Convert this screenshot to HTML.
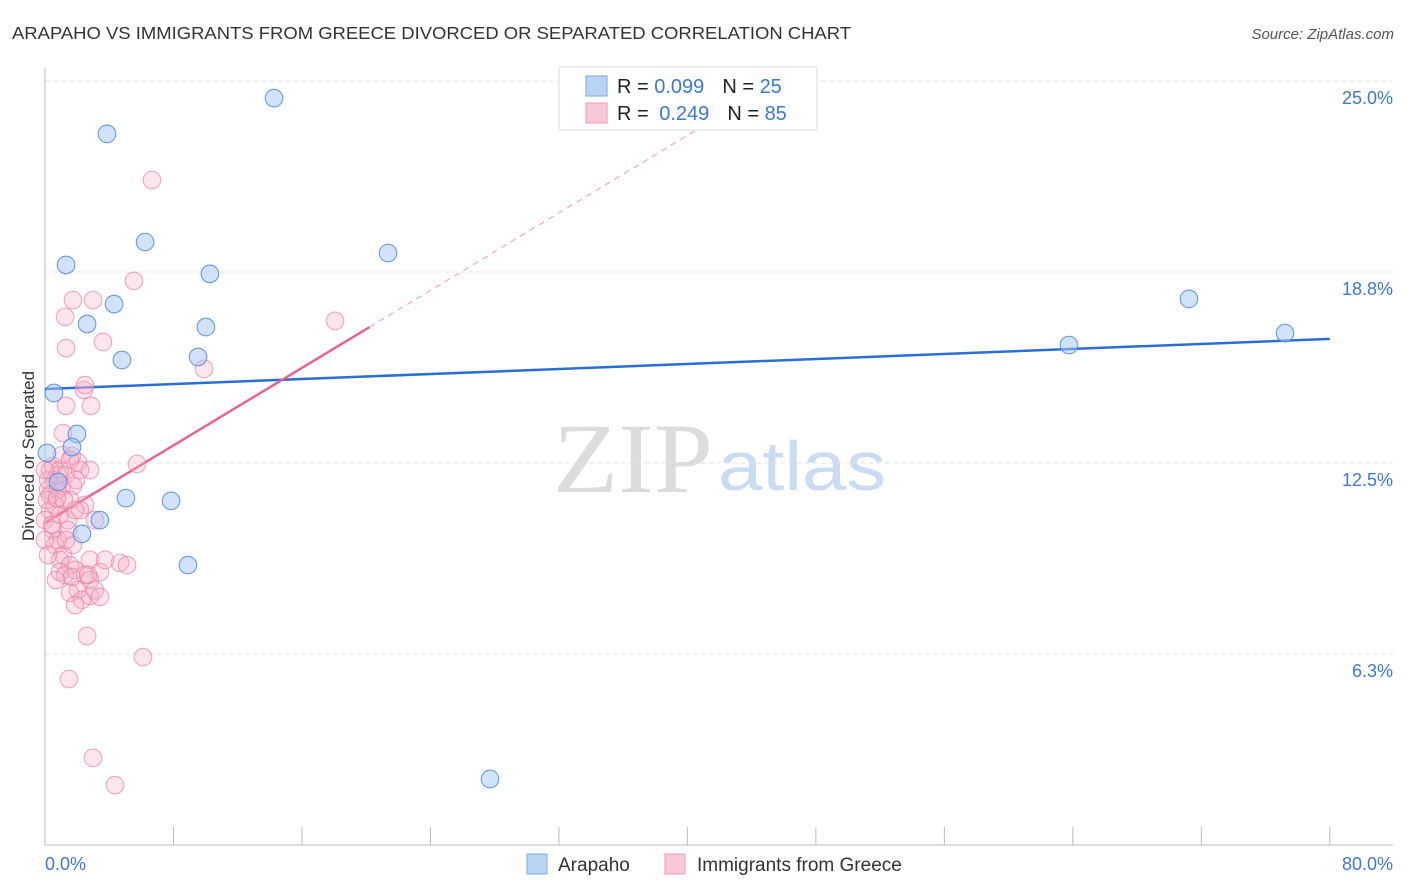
<!DOCTYPE html>
<html><head><meta charset="utf-8"><style>
body{margin:0;background:#fff;font-family:"Liberation Sans",sans-serif;}
#wrap{position:relative;width:1406px;height:892px;overflow:hidden;}
</style></head><body>
<div id="wrap">
<svg id="svg" width="1406" height="892" xmlns="http://www.w3.org/2000/svg">
<text x="12" y="39" font-size="17.5" fill="#333" textLength="839" lengthAdjust="spacingAndGlyphs">ARAPAHO VS IMMIGRANTS FROM GREECE DIVORCED OR SEPARATED CORRELATION CHART</text>
<text x="1394" y="39" font-size="15" fill="#555" font-style="italic" text-anchor="end">Source: ZipAtlas.com</text>
<text transform="translate(34,456) rotate(-90)" font-size="17" fill="#333" text-anchor="middle">Divorced or Separated</text>
<g>
<text x="553" y="492" font-family="Liberation Serif,serif" font-size="100" fill="#dcdcdc" textLength="160" lengthAdjust="spacingAndGlyphs">ZIP</text>
<text x="718" y="490" font-size="70" fill="#c9dcf3" textLength="168" lengthAdjust="spacingAndGlyphs">atlas</text>
</g>
<g id="grid"></g><g id="axes"></g><g id="trend"></g><g id="pts"></g>
<g>
<rect x="559" y="67" width="258" height="63" fill="#fff" stroke="#ddd"/>
<rect x="586" y="76" width="21" height="20" fill="#b9d3f5" stroke="#7aaae8"/>
<rect x="586" y="103" width="21" height="20" fill="#f9c8d7" stroke="#ef9ab5"/>
<text x="617" y="93" font-size="20" fill="#222">R = <tspan fill="#3b78d8">0.099</tspan><tspan dx="18">N = </tspan><tspan fill="#3b78d8">25</tspan></text>
<text x="617" y="120" font-size="20" fill="#222">R = <tspan fill="#3b78d8" dx="5">0.249</tspan><tspan dx="18">N = </tspan><tspan fill="#3b78d8">85</tspan></text>
</g>
<g>
<rect x="527" y="854" width="20" height="20" fill="#b9d3f5" stroke="#7aaae8"/>
<text x="558" y="871" font-size="19" fill="#333">Arapaho</text>
<rect x="665" y="854" width="20" height="20" fill="#f9c8d7" stroke="#ef9ab5"/>
<text x="697" y="871" font-size="19" fill="#333">Immigrants from Greece</text>
</g>
</svg>
</div>
<script>
const blueX=[3.86,14.26,6.23,1.31,10.27,21.36,4.30,2.62,10.02,4.79,9.53,0.56,1.99,1.68,0.12,5.04,7.85,3.42,2.30,8.90,27.71,71.23,63.76,77.21,0.81];
const blueY=[23.27,24.44,19.73,18.98,18.69,19.37,17.70,17.05,16.95,15.87,15.97,14.79,13.45,13.02,12.83,11.35,11.26,10.63,10.18,9.16,2.16,17.87,16.36,16.75,11.88];
const pinkX=[6.66,5.54,1.74,2.99,1.25,3.61,1.31,18.06,9.9,2.43,1.31,2.86,1.12,5.73,1.68,2.05,2.8,0.5,0.93,1.31,0.62,1.74,0.19,0.81,1.06,1.56,2.49,0.62,0.31,0.93,1.43,0,0.5,2.18,3.11,0.81,0.62,1.12,0.93,2.8,4.67,5.11,1.56,1.87,3.42,0.93,1.25,1.68,2.49,2.8,2.05,1.56,2.8,2.3,1.87,2.62,6.1,1.49,2.99,4.36,0.19,0.31,0.12,0.44,1.18,1.87,0.81,2.18,1.06,2.68,0.68,3.11,3.42,3.74,1.43,1.74,0,0.19,1.56,2.49,0.31,1.31,0.75,0,1.93];
const pinkY=[21.76,18.46,17.83,17.83,17.28,16.46,16.26,17.15,15.58,14.89,14.37,14.37,13.48,12.47,12.73,12.53,12.27,12.4,12.27,12.11,11.94,11.75,11.62,11.62,11.75,11.29,11.13,11.13,10.96,10.8,10.63,10.63,10.31,10.96,10.63,9.98,9.82,9.49,9.33,9.33,9.23,9.16,9.16,9.0,8.93,8.93,8.84,8.77,8.84,8.67,8.34,8.25,8.15,8.02,7.85,6.84,6.15,5.43,2.85,1.96,11.94,11.45,11.29,10.47,11.29,10.96,12.11,12.27,12.76,8.84,8.67,8.34,8.12,9.33,10.31,9.82,9.98,9.49,12.6,15.05,12.27,9.98,11.35,12.27,11.94];
const yTicks=[6.25,12.5,18.75,25];
const yTickLabels=["6.3%","12.5%","18.8%","25.0%"];
const xTicks=[0,8,16,24,32,40,48,56,64,72,80];
const blueTrend=[14.92,16.56]; // value at x=0, x=80
const pinkTrend=[10.54,0.317]; // intercept, slope
const NS="http://www.w3.org/2000/svg";
const X=v=>45+v*16.06, Y=v=>845-v*30.56;
function mk(t,a,p){const e=document.createElementNS(NS,t);for(const k in a)e.setAttribute(k,a[k]);p.appendChild(e);return e;}
const grid=document.getElementById('grid'),axes=document.getElementById('axes'),trend=document.getElementById('trend'),pts=document.getElementById('pts');
yTicks.forEach((v,i)=>{
 const l=mk('line',{x1:45,x2:1393,y1:Y(v),y2:Y(v),stroke:'#e2e2e2','stroke-width':1,'stroke-dasharray':'4,4'},grid);
 
 
 const t=mk('text',{x:1393,y:Y(v)+23,'text-anchor':'end','font-size':18,fill:'#3b78d8'},grid);
 t.textContent=yTickLabels[i];
 
 
});
const ay=mk('line',{x1:45,x2:45,y1:68,y2:845,stroke:'#bbb'},axes);


const ax=mk('line',{x1:45,x2:1393,y1:845,y2:845,stroke:'#bbb'},axes);


xTicks.forEach(v=>{
 const l=mk('line',{x1:X(v),x2:X(v),y1:827,y2:845,stroke:'#bbb'},axes);
 
 
});
const t0=mk('text',{x:45,y:870,'font-size':18,fill:'#3b78d8'},axes);t0.textContent='0.0%';


const t1=mk('text',{x:1393,y:870,'font-size':18,fill:'#3b78d8','text-anchor':'end'},axes);t1.textContent='80.0%';


function dot(x,y,fill,stroke,name){const c=mk('circle',{cx:X(x),cy:Y(y),r:8.8,fill:fill,stroke:stroke,'stroke-width':1.1},pts);
 
 }
pinkX.forEach((x,i)=>dot(x,pinkY[i],'rgba(246,175,199,0.32)','rgba(232,125,162,0.65)','greece-point'));
blueX.forEach((x,i)=>dot(x,blueY[i],'rgba(165,198,242,0.5)','rgba(80,140,225,0.85)','arapaho-point'));
const bl=mk('line',{x1:X(0),y1:Y(blueTrend[0]),x2:X(80),y2:Y(blueTrend[1]),stroke:'#2a6fd6','stroke-width':2.5},trend);


const pe=20.2, pd=42.5;
const pl=mk('line',{x1:X(0),y1:Y(pinkTrend[0]),x2:X(pe),y2:Y(pinkTrend[0]+pinkTrend[1]*pe),stroke:'#e8638d','stroke-width':2.5},trend);


const pdl=mk('line',{x1:X(pe),y1:Y(pinkTrend[0]+pinkTrend[1]*pe),x2:X(pd),y2:Y(pinkTrend[0]+pinkTrend[1]*pd),stroke:'#eeaabf','stroke-width':1.2,'stroke-dasharray':'6,5'},trend);


</script>
</body></html>
